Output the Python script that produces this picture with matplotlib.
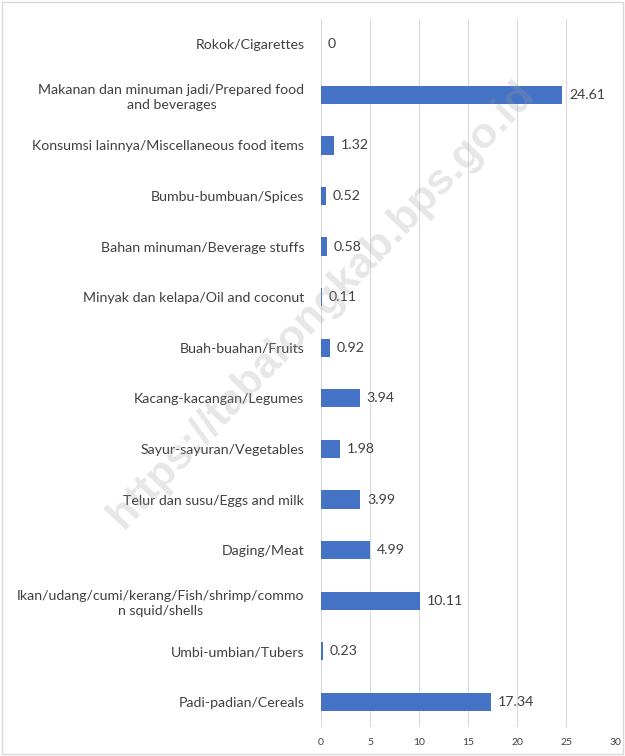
"""Horizontal bar chart: food consumption share by commodity group."""

import matplotlib

matplotlib.use("Agg")
import matplotlib.pyplot as plt  # noqa: E402
from matplotlib.patches import Rectangle  # noqa: E402

CATEGORIES = [
    "Padi-padian/Cereals",
    "Umbi-umbian/Tubers",
    "Ikan/udang/cumi/kerang/Fish/shrimp/commo\nn squid/shells",
    "Daging/Meat",
    "Telur dan susu/Eggs and milk",
    "Sayur-sayuran/Vegetables",
    "Kacang-kacangan/Legumes",
    "Buah-buahan/Fruits",
    "Minyak dan kelapa/Oil and coconut",
    "Bahan minuman/Beverage stuffs",
    "Bumbu-bumbuan/Spices",
    "Konsumsi lainnya/Miscellaneous food items",
    "Makanan dan minuman jadi/Prepared food\nand beverages",
    "Rokok/Cigarettes",
]
VALUES = [17.34, 0.23, 10.11, 4.99, 3.99, 1.98, 3.94, 0.92, 0.11, 0.58, 0.52, 1.32, 24.61, 0]
X_TICKS = [0, 5, 10, 15, 20, 25, 30]

BAR_COLOR = "#4472C4"
TEXT_COLOR = "#404040"
GRID_COLOR = "#D9D9D9"


def main() -> None:
    plt.rcParams["font.family"] = ["Lato", "DejaVu Sans"]
    fig = plt.figure(figsize=(6.25, 7.56), dpi=100)
    ax = fig.add_axes([0.5136, 0.038, 0.4704, 0.937])

    ypos = list(range(len(CATEGORIES)))
    ax.barh(ypos, VALUES, height=0.36, color=BAR_COLOR, zorder=2)
    for y, v in zip(ypos, VALUES):
        ax.text(v + 0.7, y, f"{v:g}", va="center", ha="left",
                fontsize=10.2, color=TEXT_COLOR, zorder=3)

    ax.set_xlim(0, 30)
    ax.set_ylim(-0.5, len(CATEGORIES) - 0.5)
    ax.set_xticks(X_TICKS)
    ax.set_yticks(ypos)
    ax.set_yticklabels(CATEGORIES, fontsize=10.2, color=TEXT_COLOR)
    for label in ax.get_yticklabels():
        label.set_multialignment("center")
        label.set_linespacing(1.35)
    ax.tick_params(axis="x", labelsize=7.5, labelcolor=TEXT_COLOR, length=0, pad=8)
    ax.tick_params(axis="y", length=0, pad=12)
    ax.grid(axis="x", color=GRID_COLOR, linewidth=0.8, zorder=0)
    ax.set_axisbelow(True)
    for spine in ax.spines.values():
        spine.set_visible(False)

    # chart border
    fig.patches.append(Rectangle((0.003, 0.003), 0.994, 0.994, transform=fig.transFigure,
                                 fill=False, edgecolor="#D9D9D9", linewidth=1))

    # watermark
    fig.text(0.515, 0.597, "https://tabalongkab.bps.go.id", rotation=46.5,
             rotation_mode="anchor", ha="center", va="center", fontsize=31,
             fontweight="bold", color="#9E9E9E", alpha=0.25, zorder=10,
             family=["Liberation Sans", "DejaVu Sans"])

    fig.savefig("out.png", dpi=100)
    plt.close(fig)


if __name__ == "__main__":
    main()
